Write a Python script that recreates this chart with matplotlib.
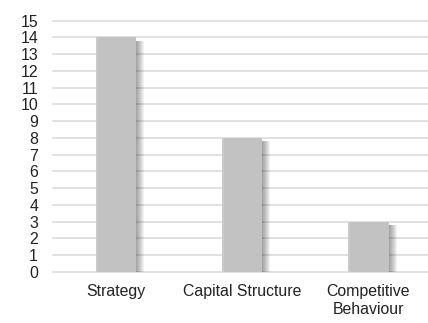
import matplotlib.pyplot as plt
import numpy as np

plt.rcParams["font.family"] = ["Liberation Sans", "DejaVu Sans"]

categories = ["Strategy", "Capital Structure", "Competitive\nBehaviour"]
values = [14, 8, 3]
yticks = list(range(0, 16))

fig = plt.figure(figsize=(4.28, 3.23), dpi=100)
ax = fig.add_axes([0.124, 0.158, 0.884, 0.7785])

x = np.arange(len(categories))
width = 0.32
px = 3.0 / 378  # one pixel in data units along x

# soft shadow to the right of each bar
for k in range(1, 9):
    ax.bar(x + k * px, np.array(values) - 0.12, width=width, bottom=-0.08,
           color="black", alpha=0.05, linewidth=0, zorder=2)

ax.bar(x, values, width=width, color="#c2c2c2", linewidth=0, zorder=3)
# lighter left edge
ax.bar(x - width / 2 + px, values, width=2 * px, color="#cacaca",
       linewidth=0, zorder=4)

ax.set_xlim(-0.5, 2.5)
ax.set_ylim(0, 15)
ax.set_yticks(yticks)
ax.set_xticks(x)
ax.set_xticklabels(categories, fontsize=11.4, color="#222222", linespacing=1.25)
ax.tick_params(axis="y", length=0, pad=10.8, labelsize=11.4, labelcolor="#222222")
ax.tick_params(axis="x", length=0, pad=9)
for lbl in ax.get_yticklabels():
    lbl.set_horizontalalignment("right")

for t in yticks:
    ax.axhline(t, color="#d9d9d9", linewidth=1.1, zorder=1, clip_on=False)

for s in ax.spines.values():
    s.set_visible(False)

fig.savefig("out.png", dpi=100)
